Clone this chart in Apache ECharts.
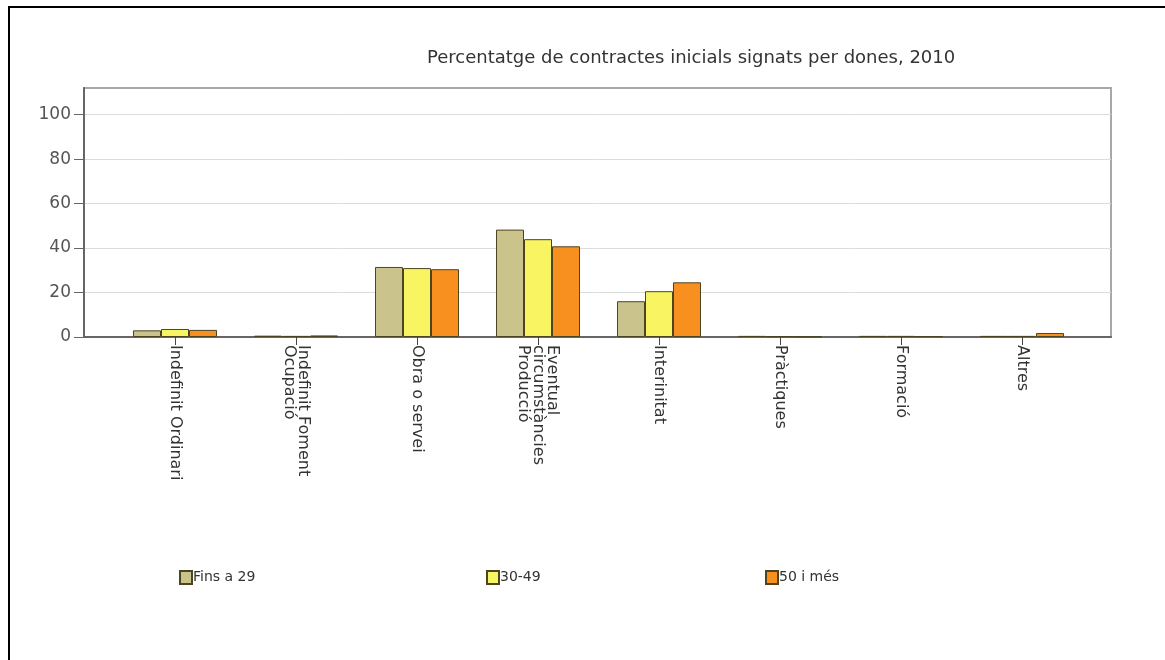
<!DOCTYPE html>
<html>
<head>
<meta charset="utf-8">
<script src="https://cdn.jsdelivr.net/npm/echarts@6/dist/echarts.min.js"></script>
<style>
html,body{margin:0;padding:0;background:#fff;}
#chart{width:1165px;height:660px;}
</style>
</head>
<body>
<div id="chart"></div>
<script>
const categories = ['Indefinit Ordinari', 'Indefinit Foment\nOcupació', 'Obra o servei', 'Eventual\ncircumstàncies\nProducció', 'Interinitat', 'Pràctiques', 'Formació', 'Altres'];
const seriesNames = ['Fins a 29', '30-49', '50 i més'];
const finsA29 = [3.0, 0.6, 31.5, 48.3, 16.1, 0.5, 0.5, 0.5];
const de30a49 = [3.6, 0.5, 31.0, 44.0, 20.6, 0.3, 0.5, 0.5];
const de50iMes = [3.2, 0.7, 30.5, 40.8, 24.6, 0.2, 0.4, 1.8];
const yTicks = [0, 20, 40, 60, 80, 100];
const titleText = 'Percentatge de contractes inicials signats per dones, 2010';

const colors = ['#cbc38c', '#f8f462', '#f7901f'];
const font = 'DejaVu Sans';
const chart = echarts.init(document.getElementById('chart'), null, {renderer: 'canvas'});
const yMax = 112;

const seriesData = [finsA29, de30a49, de50iMes];
const legends = [179, 486, 765].map((x, i) => ({
  data: [seriesNames[i]], left: x, top: 570, padding: 0,
  icon: 'rect', itemWidth: 12, itemHeight: 13,
  textStyle: {fontFamily: font, fontSize: 14, color: '#333', padding: [0,0,0,-4]},
  selectedMode: false
}));

chart.setOption({
  backgroundColor: '#fff',
  animation: false,
  color: colors,
  title: {
    text: titleText, left: 422, top: 44,
    textStyle: {fontFamily: font, fontSize: 18, fontWeight: 'normal', color: '#333'}
  },
  legend: legends,
  grid: [
    {left: 84, top: 88, width: 1027, height: 249, show: true, borderColor: '#a8a8a8', borderWidth: 2, backgroundColor: 'transparent'},
    {left: 114.5, top: 88, width: 968, height: 249}
  ],
  xAxis: [
    {gridIndex: 0, type: 'value', min: 0, max: 1, axisLine: {show: true, onZero: false, lineStyle: {color: '#666', width: 2}},
     axisTick: {show: false}, axisLabel: {show: false}, splitLine: {show: false}},
    {gridIndex: 1, type: 'category', data: categories, axisLine: {show: false},
     axisTick: {show: true, alignWithLabel: true, length: 8, lineStyle: {color: '#444'}},
     axisLabel: {rotate: -90, margin: 8, fontFamily: font, fontSize: 16, color: '#333', lineHeight: 14.5, interval: 0}}
  ],
  yAxis: [
    {gridIndex: 0, type: 'value', min: 0, max: yMax, interval: 20,
     axisLine: {show: true, lineStyle: {color: '#666', width: 2}},
     axisTick: {show: true, length: 10, lineStyle: {color: '#666'}, customValues: yTicks},
     axisLabel: {margin: 13, fontFamily: font, fontSize: 17, color: '#555', customValues: yTicks},
     splitLine: {show: true, lineStyle: {color: '#dcdcdc', width: 1}}},
    {gridIndex: 1, type: 'value', min: 0, max: yMax, show: false, splitLine: {show: false}}
  ],
  series: seriesData.map((d, i) => ({
    name: seriesNames[i], type: 'bar', xAxisIndex: 1, yAxisIndex: 1,
    data: d, barWidth: 28, barGap: '0%',
    itemStyle: {color: colors[i], borderColor: '#4d4422', borderWidth: 1}
  })),
  graphic: [
    {type: 'line', shape: {x1: 9, y1: 6, x2: 9, y2: 660}, style: {stroke: '#000', lineWidth: 2}},
    {type: 'line', shape: {x1: 8, y1: 7, x2: 1165, y2: 7}, style: {stroke: '#000', lineWidth: 2}}
  ]
});
</script>
</body>
</html>
